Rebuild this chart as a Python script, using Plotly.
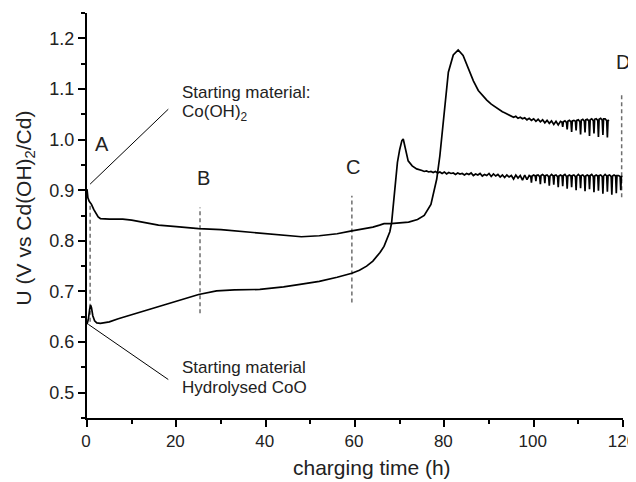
import plotly.graph_objects as go

# ---------------- data ----------------
# Curve starting from Co(OH)2: (charging time h, U V)
coh_smooth = [(0, 0.902), (0.2, 0.885), (0.5, 0.878), (1.0, 0.872), (1.5, 0.862), (2.0, 0.853),
              (2.5, 0.847), (3.0, 0.844), (4, 0.843), (5, 0.843), (6, 0.843), (8, 0.843),
              (10, 0.841), (13, 0.836), (16, 0.831), (20, 0.828), (25, 0.824), (30, 0.822),
              (35, 0.818), (40, 0.813), (45, 0.809), (48, 0.808), (52, 0.810), (56, 0.814),
              (59, 0.819), (62, 0.823), (64, 0.827), (65.5, 0.831), (66.5, 0.834), (68, 0.834),
              (70, 0.835), (72, 0.837), (74, 0.842), (75.5, 0.850), (77, 0.872), (78.3, 0.922),
              (79.0, 0.968), (79.6, 1.021), (80.1, 1.073), (80.9, 1.133), (82.0, 1.167),
              (83.1, 1.177), (84.2, 1.166), (85.7, 1.133)]
coh_noisy = [(86.5, 1.116), (87.6, 1.097), (88.5, 1.087), (89.5, 1.078), (90.5, 1.070),
             (91.5, 1.064), (92, 1.060), (92.5, 1.058), (93, 1.055), (93.5, 1.053), (94, 1.051),
             (94.5, 1.049), (95, 1.047), (95.5, 1.044), (96, 1.046), (96.5, 1.042), (97, 1.044),
             (97.5, 1.041), (98, 1.043), (98.5, 1.039), (99, 1.042), (99.5, 1.038), (100, 1.041),
             (100.5, 1.036), (101, 1.040), (101.5, 1.035), (102, 1.039), (102.5, 1.033),
             (103, 1.038), (103.5, 1.032), (104, 1.037), (104.5, 1.030), (105, 1.036),
             (105.5, 1.029), (106, 1.036),
             (106.35, 1.034), (106.5, 1.025), (106.65, 1.035), (107, 1.037),
             (107.35, 1.034), (107.5, 1.020), (107.65, 1.036), (108, 1.038),
             (108.35, 1.035), (108.5, 1.015), (108.65, 1.037), (109, 1.038),
             (109.35, 1.036), (109.5, 1.018), (109.65, 1.038), (110, 1.039),
             (110.35, 1.035), (110.5, 1.010), (110.65, 1.038), (111, 1.040),
             (111.35, 1.036), (111.5, 1.014), (111.65, 1.039), (112, 1.040),
             (112.35, 1.037), (112.5, 1.007), (112.65, 1.039), (113, 1.041),
             (113.35, 1.037), (113.5, 1.012), (113.65, 1.040), (114, 1.041),
             (114.35, 1.038), (114.5, 1.005), (114.65, 1.040), (115, 1.042),
             (115.35, 1.038), (115.5, 1.009), (115.65, 1.041), (116, 1.041),
             (116.35, 1.037), (116.5, 1.004), (116.65, 1.039), (116.8, 1.036)]

# Curve starting from hydrolysed CoO
coo_smooth = [(0, 0.635), (0.3, 0.645), (0.6, 0.665), (0.8, 0.673), (1.0, 0.668), (1.3, 0.652),
              (1.7, 0.642), (2.2, 0.638), (3, 0.637), (4, 0.638), (5, 0.640), (7, 0.646),
              (10, 0.654), (12.6, 0.661), (15, 0.667), (20, 0.680), (25, 0.694), (29, 0.701),
              (33, 0.703), (38.7, 0.704), (44, 0.709), (47.7, 0.714), (52, 0.720), (56, 0.728),
              (59.3, 0.736), (61, 0.742), (62.6, 0.750), (64, 0.760), (65.6, 0.777),
              (66.5, 0.789), (67.2, 0.803), (67.8, 0.818), (68.2, 0.836), (68.6, 0.870),
              (69.0, 0.916), (69.5, 0.955), (70.0, 0.980), (70.5, 0.998), (70.8, 1.001),
              (71.2, 0.985), (71.9, 0.958), (72.8, 0.948), (73.8, 0.942)]
coo_noisy = [(75, 0.939), (75.5, 0.937), (76, 0.938), (76.5, 0.936), (77, 0.937), (77.5, 0.935),
             (78, 0.937), (78.5, 0.934), (79, 0.936), (79.5, 0.933), (80, 0.936), (80.5, 0.932),
             (81, 0.935), (81.5, 0.933), (82, 0.934), (82.5, 0.931), (83, 0.934), (83.5, 0.932),
             (84, 0.933), (84.5, 0.930), (85, 0.933), (85.5, 0.931), (86, 0.934), (86.5, 0.929),
             (87, 0.932), (87.5, 0.930), (88, 0.933), (88.5, 0.928), (89, 0.931), (89.5, 0.929),
             (90, 0.933), (90.5, 0.927), (91, 0.932), (91.5, 0.928), (92, 0.931), (92.5, 0.926),
             (93, 0.930), (93.5, 0.925), (94, 0.930), (94.5, 0.926), (95, 0.929), (95.5, 0.922),
             (96, 0.930), (96.5, 0.924), (97, 0.929), (97.5, 0.920), (98, 0.930), (98.5, 0.921),
             (99, 0.929),
             (99.35, 0.927), (99.5, 0.915), (99.65, 0.928), (100, 0.930),
             (100.35, 0.928), (100.5, 0.918), (100.65, 0.929), (101, 0.930),
             (101.35, 0.927), (101.5, 0.912), (101.65, 0.929), (102, 0.931),
             (102.35, 0.928), (102.5, 0.914), (102.65, 0.929), (103, 0.930),
             (103.35, 0.927), (103.5, 0.909), (103.65, 0.928), (104, 0.931),
             (104.35, 0.928), (104.5, 0.911), (104.65, 0.929), (105, 0.930),
             (105.35, 0.927), (105.5, 0.906), (105.65, 0.928), (106, 0.930),
             (106.35, 0.928), (106.5, 0.908), (106.65, 0.929), (107, 0.931),
             (107.35, 0.927), (107.5, 0.903), (107.65, 0.928), (108, 0.930),
             (108.35, 0.928), (108.5, 0.906), (108.65, 0.929), (109, 0.930),
             (109.35, 0.927), (109.5, 0.900), (109.65, 0.928), (110, 0.931),
             (110.35, 0.928), (110.5, 0.904), (110.65, 0.929), (111, 0.930),
             (111.35, 0.927), (111.5, 0.898), (111.65, 0.928), (112, 0.930),
             (112.35, 0.928), (112.5, 0.902), (112.65, 0.929), (113, 0.931),
             (113.35, 0.927), (113.5, 0.896), (113.65, 0.928), (114, 0.930),
             (114.35, 0.928), (114.5, 0.899), (114.65, 0.929), (115, 0.930),
             (115.35, 0.927), (115.5, 0.893), (115.65, 0.928), (116, 0.931),
             (116.35, 0.928), (116.5, 0.897), (116.65, 0.929), (117, 0.930),
             (117.35, 0.927), (117.5, 0.891), (117.65, 0.928), (118, 0.930),
             (118.35, 0.928), (118.5, 0.894), (118.65, 0.929), (119, 0.929),
             (119.35, 0.927), (119.5, 0.900), (119.65, 0.928), (119.8, 0.926)]

# Stage markers A-D (dashed lines)
stage_labels = ["A", "B", "C", "D"]
stage_time = [0.7, 25.3, 59.3, 119.7]
stage_low = [0.64, 0.657, 0.678, 0.886]
stage_high = [0.872, 0.866, 0.889, 1.093]

x_ticks = [0, 20, 40, 60, 80, 100, 120]
y_ticks = [0.5, 0.6, 0.7, 0.8, 0.9, 1.0, 1.1, 1.2]

# ---------------- figure ----------------
FONT = "Liberation Sans, Arial, sans-serif"
TXT = "#222222"

fig = go.Figure()

for t, lo, hi in zip(stage_time, stage_low, stage_high):
    fig.add_trace(go.Scatter(x=[t, t], y=[lo, hi], mode="lines",
                             line=dict(color="#6e6e6e", width=1.5, dash="4px,3px"),
                             showlegend=False, hoverinfo="skip"))

for pts in (coh_smooth + coh_noisy, coo_smooth + coo_noisy):
    fig.add_trace(go.Scatter(x=[p[0] for p in pts], y=[p[1] for p in pts], mode="lines",
                             line=dict(color="black", width=1.7), showlegend=False))

# pointer lines for starting-material labels
fig.add_shape(type="line", x0=0.7, y0=0.912, x1=18.2, y1=1.06,
              line=dict(color="black", width=1))
fig.add_shape(type="line", x0=0.3, y0=0.635, x1=18.2, y1=0.526,
              line=dict(color="black", width=1))

def note(x, y, text, size=18, xanchor="left"):
    fig.add_annotation(x=x, y=y, text=text, showarrow=False, xanchor=xanchor,
                       yanchor="middle", font=dict(family=FONT, size=size, color=TXT))

note(20.8, 1.093, "Starting material:", 17)
note(20.8, 1.053, "Co(OH)<sub>2</sub>", 17)
note(20.8, 0.549, "Starting material", 17)
note(20.8, 0.510, "Hydrolysed CoO", 17)

stage_text_x = [3.3, 26.0, 59.6, 120.0]
stage_text_y = [0.991, 0.925, 0.945, 1.153]
for lab, x, y in zip(stage_labels, stage_text_x, stage_text_y):
    note(x, y, lab, 20, xanchor="center")

# axis titles
fig.add_annotation(xref="paper", yref="paper", x=0.532, y=-0.121, text="charging time (h)",
                   showarrow=False, xanchor="center", yanchor="middle",
                   font=dict(family=FONT, size=21, color=TXT))
fig.add_annotation(xref="paper", yref="paper", x=-0.1157, y=0.52,
                   text="U (V vs Cd(OH)<sub>2</sub>/Cd)", textangle=-90,
                   showarrow=False, xanchor="center", yanchor="middle",
                   font=dict(family=FONT, size=21, color=TXT))

axis_common = dict(showline=True, linecolor="black", linewidth=2, ticks="outside",
                   ticklen=7, tickwidth=1.5, tickcolor="black", showgrid=False,
                   zeroline=False, ticklabeloverflow="allow", automargin=False)

fig.update_xaxes(range=[0, 120], tickvals=x_ticks, ticklabelshift=-1,
                 tickfont=dict(family=FONT, size=17, color=TXT),
                 minor=dict(dtick=10, tick0=0, ticks="outside", ticklen=4,
                            tickwidth=1.5, tickcolor="black", showgrid=False),
                 **axis_common)
fig.update_yaxes(range=[0.45, 1.25], tickvals=y_ticks, tickformat=".1f",
                 tickfont=dict(family=FONT, size=18, color=TXT),
                 minor=dict(dtick=0.05, tick0=0.45, ticks="outside", ticklen=4,
                            tickwidth=1.5, tickcolor="black", showgrid=False),
                 **axis_common)

# page body has an 8px margin, so the figure is shifted by 8px; compensate
fig.update_layout(width=636, height=474, margin=dict(l=79, r=21, t=5, b=64),
                  plot_bgcolor="white", paper_bgcolor="white",
                  font=dict(family=FONT, color=TXT))

fig.write_html("out.html")
